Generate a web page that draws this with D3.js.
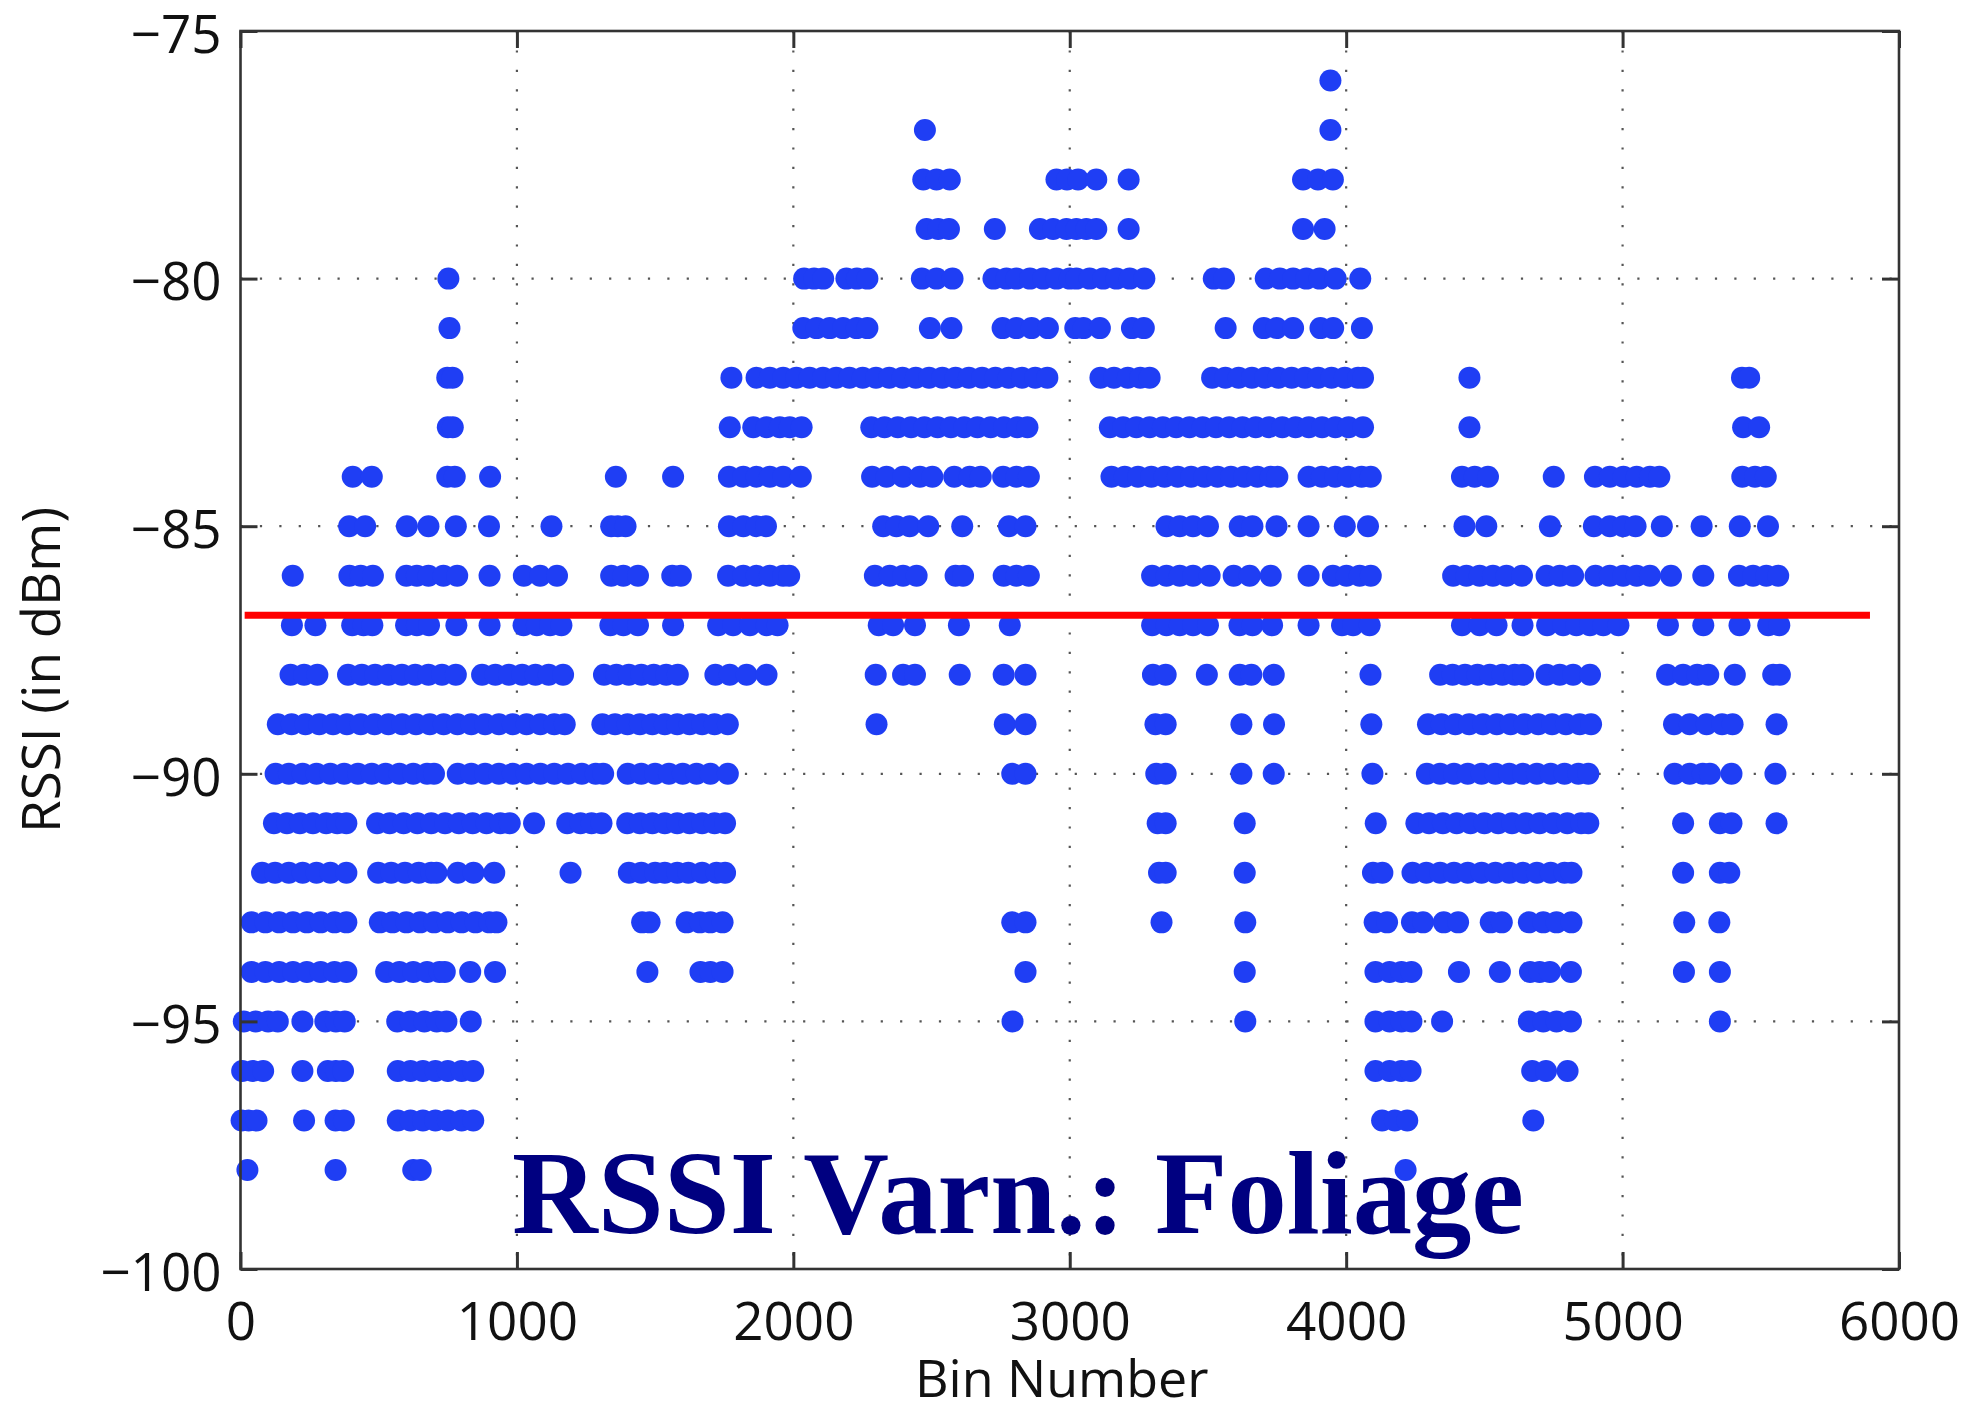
<!DOCTYPE html>
<html>
<head>
<meta charset="utf-8">
<script src="https://cdn.jsdelivr.net/npm/d3@7/dist/d3.min.js"></script>
<style>
  html, body { margin: 0; padding: 0; background: #ffffff; }
  svg { display: block; }
</style>
</head>
<body>
<svg id="chart" width="1964" height="1407"></svg>
<script>
// ---------------- DATA ----------------
const rssiLevels = [-76, -77, -78, -79, -80, -81, -82, -83, -84, -85, -86, -87,
                    -88, -89, -90, -91, -92, -93, -94, -95, -96, -97, -98];

// bin numbers of the measured points at each RSSI level (same order as rssiLevels)
const binNumbers = [
  [3943],
  [2476, 3943],
  [2470, 2518, 2566, 2952, 2990, 3030, 3096, 3213, 3844, 3898, 3952],
  [2482, 2524, 2563, 2729, 2892, 2940, 2988, 3024, 3060, 3096, 3213, 3844, 3922],
  [752, 2039, 2075, 2108, 2192, 2230, 2268, 2465, 2518, 2576, 2724, 2771, 2807, 2856, 2904, 2952, 3000,
   3024, 3072, 3121, 3169, 3217, 3270, 3521, 3558, 3709, 3760, 3808, 3856, 3904, 3962, 4051],
  [756, 2036, 2084, 2132, 2180, 2229, 2268, 2494, 2572, 2757, 2807, 2862, 2921, 3020, 3050, 3109, 3225,
   3268, 3564, 3702, 3748, 3808, 3907, 3953, 4057],
  [748, 767, 1776, 1867, 1915, 1963, 2011, 2059, 2107, 2155, 2203, 2251, 2299, 2347, 2395, 2443, 2491,
   2539, 2587, 2635, 2683, 2731, 2779, 2827, 2875, 2919, 3111, 3160, 3210, 3255, 3289, 3515, 3563, 3611,
   3659, 3707, 3755, 3803, 3851, 3899, 3947, 3995, 4043, 4061, 4446, 5432, 5458],
  [750, 768, 1770, 1855, 1903, 1951, 1987, 2030, 2282, 2330, 2378, 2426, 2474, 2522, 2570, 2618, 2666,
   2714, 2762, 2810, 2847, 3145, 3193, 3241, 3289, 3337, 3385, 3433, 3481, 3529, 3577, 3625, 3673, 3721,
   3769, 3817, 3865, 3913, 3961, 4009, 4061, 4446, 5436, 5494],
  [406, 475, 748, 775, 903, 1358, 1565, 1767, 1819, 1867, 1915, 1963, 2027, 2285, 2337, 2397, 2458, 2503,
   2582, 2638, 2678, 2759, 2807, 2852, 3151, 3199, 3247, 3295, 3343, 3391, 3439, 3487, 3535, 3583, 3631,
   3679, 3727, 3751, 3864, 3912, 3960, 4008, 4056, 4089, 4419, 4465, 4513, 4751, 4900, 4954, 5003, 5051,
   5099, 5133, 5433, 5479, 5518],
  [393, 451, 602, 680, 779, 899, 1125, 1341, 1365, 1393, 1767, 1819, 1867, 1901, 2325, 2373, 2421, 2488,
   2611, 2780, 2840, 3350, 3398, 3446, 3500, 3615, 3661, 3748, 3864, 3995, 4079, 4428, 4507, 4737, 4896,
   4954, 5002, 5047, 5142, 5286, 5424, 5526],
  [189, 394, 435, 479, 600, 638, 680, 734, 784, 901, 1025, 1084, 1145, 1341, 1385, 1438, 1562, 1593, 1764,
   1819, 1867, 1915, 1963, 1985, 2295, 2349, 2397, 2446, 2587, 2614, 2761, 2807, 2852, 3298, 3350, 3398,
   3446, 3506, 3593, 3651, 3727, 3864, 3952, 4001, 4049, 4089, 4387, 4435, 4483, 4531, 4580, 4636, 4725,
   4773, 4821, 4902, 4954, 5002, 5051, 5099, 5175, 5292, 5421, 5472, 5520, 5563],
  [186, 271, 404, 445, 477, 599, 638, 682, 781, 901, 1024, 1072, 1120, 1161, 1338, 1385, 1438, 1565, 1728,
   1782, 1843, 1903, 1943, 2309, 2361, 2440, 2599, 2783, 3298, 3350, 3398, 3446, 3500, 3614, 3661, 3732,
   3864, 3985, 4025, 4085, 4419, 4483, 4544, 4638, 4727, 4785, 4833, 4882, 4930, 4985, 5164, 5292, 5423,
   5527, 5567],
  [181, 230, 278, 389, 439, 487, 535, 584, 632, 680, 729, 779, 874, 922, 971, 1019, 1067, 1115, 1167, 1315,
   1360, 1405, 1450, 1495, 1540, 1582, 1718, 1770, 1831, 1903, 2298, 2397, 2440, 2602, 2761, 2840, 3301,
   3347, 3496, 3615, 3657, 3738, 4088, 4340, 4385, 4430, 4475, 4520, 4565, 4610, 4640, 4725, 4773, 4821,
   4882, 5161, 5219, 5270, 5310, 5406, 5545, 5569],
  [135, 185, 235, 285, 335, 385, 435, 485, 535, 585, 635, 685, 735, 785, 835, 885, 935, 985, 1035, 1085,
   1135, 1173, 1309, 1355, 1400, 1445, 1490, 1535, 1580, 1625, 1670, 1715, 1763, 2301, 2765, 2840, 3310,
   3347, 3621, 3739, 4091, 4296, 4345, 4395, 4445, 4495, 4545, 4595, 4645, 4695, 4745, 4795, 4845, 4886,
   5186, 5243, 5304, 5360, 5398, 5557],
  [127, 175, 225, 275, 325, 375, 425, 475, 525, 575, 625, 675, 700, 786, 835, 885, 935, 985, 1035, 1085,
   1135, 1185, 1235, 1285, 1312, 1401, 1450, 1500, 1550, 1600, 1650, 1700, 1763, 2792, 2840, 3313, 3347,
   3621, 3738, 4095, 4292, 4340, 4390, 4440, 4490, 4540, 4590, 4640, 4690, 4740, 4790, 4840, 4876, 5188,
   5243, 5290, 5316, 5394, 5553],
  [121, 168, 215, 262, 310, 350, 383, 494, 540, 590, 640, 690, 740, 790, 840, 890, 940, 974, 1062, 1182,
   1230, 1270, 1306, 1399, 1445, 1490, 1535, 1580, 1625, 1670, 1715, 1753, 3318, 3347, 3633, 4107, 4254,
   4300, 4350, 4400, 4450, 4500, 4550, 4600, 4650, 4700, 4750, 4800, 4850, 4876, 5219, 5352, 5394, 5557],
  [78, 125, 175, 225, 275, 325, 383, 498, 545, 595, 645, 690, 709, 786, 843, 918, 1194, 1405, 1450, 1500,
   1535, 1580, 1620, 1670, 1722, 1753, 3323, 3347, 3633, 4097, 4131, 4240, 4290, 4340, 4390, 4440, 4490,
   4540, 4590, 4640, 4690, 4740, 4790, 4815, 5219, 5352, 5386],
  [40, 90, 140, 190, 240, 290, 340, 383, 504, 550, 600, 650, 700, 750, 800, 850, 900, 926, 1453, 1480,
   1614, 1662, 1700, 1744, 2792, 2840, 3332, 3635, 4103, 4148, 4238, 4278, 4353, 4405, 4523, 4563, 4661,
   4713, 4761, 4815, 5223, 5350],
  [40, 90, 140, 190, 240, 290, 340, 383, 527, 575, 625, 675, 720, 739, 831, 921, 1472, 1664, 1700, 1744,
   2840, 3633, 4106, 4157, 4200, 4236, 4408, 4556, 4665, 4700, 4737, 4813, 5222, 5352],
  [12, 55, 100, 135, 224, 307, 345, 377, 567, 615, 665, 710, 745, 833, 2793, 3635, 4106, 4157, 4200, 4236,
   4347, 4661, 4713, 4761, 4813, 5352],
  [6, 45, 82, 224, 316, 345, 371, 569, 615, 660, 705, 750, 800, 842, 4106, 4157, 4200, 4233, 4673, 4723, 4801],
  [4, 30, 58, 230, 344, 374, 569, 615, 660, 705, 750, 800, 842, 4130, 4176, 4221, 4677],
  [25, 344, 625, 652, 4215]
];

// mean RSSI line
const meanRssi = -86.8;
const meanLineBins = [15, 5895];

// ticks
const xTickValues = [0, 1000, 2000, 3000, 4000, 5000, 6000];
const yTickValues = [-100, -95, -90, -85, -80, -75];
const xGridValues = [1000, 2000, 3000, 4000, 5000];
const yGridValues = [-95, -90, -85, -80];

const xLabel = "Bin Number";
const yLabel = "RSSI (in dBm)";
const titleText = "RSSI Varn.: Foliage";

// ---------------- DRAW ----------------
const svg = d3.select("#chart");
const plot = { left: 240.5, right: 1899, top: 31, bottom: 1269 };

const x = d3.scaleLinear().domain([0, 6000]).range([plot.left, plot.right]);
const y = d3.scaleLinear().domain([-100, -75]).range([plot.bottom, plot.top]);

svg.append("rect").attr("width", 1964).attr("height", 1407).attr("fill", "#ffffff");

// grid lines (dotted)
const grid = svg.append("g").attr("stroke", "#555").attr("stroke-width", 2.2)
  .attr("stroke-dasharray", "2.2 17.2");
grid.selectAll("line.vx").data(xGridValues).join("line")
  .attr("x1", d => x(d)).attr("x2", d => x(d))
  .attr("y1", y(-75)).attr("y2", y(-100));
grid.selectAll("line.hy").data(yGridValues).join("line")
  .attr("x1", x(0)).attr("x2", x(6000))
  .attr("y1", d => y(d)).attr("y2", d => y(d));

// points
const points = [];
rssiLevels.forEach((r, i) => binNumbers[i].forEach(b => points.push({ bin: b, rssi: r })));

svg.append("g").selectAll("circle").data(points).join("circle")
  .attr("cx", d => x(d.bin))
  .attr("cy", d => y(d.rssi))
  .attr("r", 11)
  .attr("fill", "#1f3ef4");

// mean line
svg.append("line")
  .attr("x1", x(meanLineBins[0])).attr("x2", x(meanLineBins[1]))
  .attr("y1", y(meanRssi)).attr("y2", y(meanRssi))
  .attr("stroke", "#ff0000").attr("stroke-width", 7);

// axes
const fontTick = "'Open Sans', 'DejaVu Sans', sans-serif";
const axisColor = "#333";

function styleAxis(g) {
  g.select(".domain").remove();
  g.selectAll(".tick line").attr("stroke", axisColor).attr("stroke-width", 3);
  g.selectAll(".tick text").attr("fill", "#111").style("font-family", fontTick).style("font-size", "53px");
}

svg.append("g").attr("transform", `translate(0,${plot.bottom})`)
  .call(d3.axisBottom(x).tickValues(xTickValues).tickFormat(d3.format("d"))
        .tickSizeInner(-17).tickSizeOuter(0).tickPadding(33))
  .call(styleAxis);

svg.append("g").attr("transform", `translate(${plot.left},0)`)
  .call(d3.axisLeft(y).tickValues(yTickValues).tickFormat(d => d3.format("d")(d).replace("-", "\u2212"))
        .tickSizeInner(-17).tickSizeOuter(0).tickPadding(19))
  .call(styleAxis)
  .selectAll(".tick text").attr("dy", "0.40em");

svg.append("g").attr("transform", `translate(0,${plot.top})`)
  .call(d3.axisTop(x).tickValues(xTickValues).tickFormat("").tickSizeInner(-17).tickSizeOuter(0))
  .call(styleAxis);

svg.append("g").attr("transform", `translate(${plot.right},0)`)
  .call(d3.axisRight(y).tickValues(yTickValues).tickFormat("").tickSizeInner(-17).tickSizeOuter(0))
  .call(styleAxis);

// box
svg.append("rect")
  .attr("x", plot.left).attr("y", plot.top)
  .attr("width", plot.right - plot.left).attr("height", plot.bottom - plot.top)
  .attr("fill", "none").attr("stroke", axisColor).attr("stroke-width", 2.6);

// axis labels
svg.append("text")
  .attr("x", (plot.left + plot.right) / 2 - 8).attr("y", 1397)
  .attr("text-anchor", "middle")
  .style("font-family", fontTick).style("font-size", "52px").attr("fill", "#111")
  .text(xLabel);

svg.append("text")
  .attr("transform", `translate(60,${670}) rotate(-90)`)
  .attr("text-anchor", "middle")
  .style("font-family", fontTick).style("font-size", "53px").attr("fill", "#111")
  .text(yLabel);

// title overlay
svg.append("text")
  .attr("x", 512).attr("y", 1233)
  .attr("textLength", 1012).attr("lengthAdjust", "spacingAndGlyphs")
  .style("font-family", "'Liberation Serif', 'Times New Roman', serif")
  .style("font-weight", "bold").style("font-size", "118px")
  .attr("fill", "#000080")
  .text(titleText);
</script>
</body>
</html>
